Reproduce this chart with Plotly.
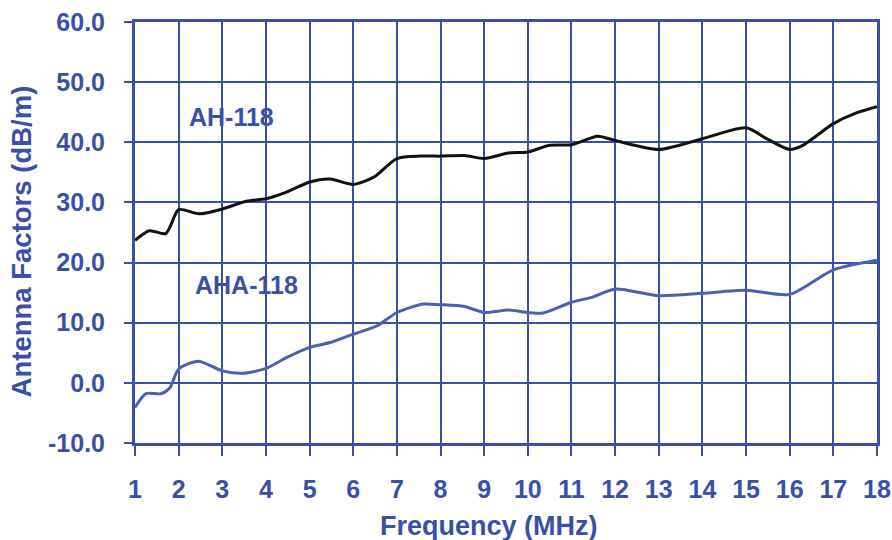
import plotly.graph_objects as go

# AH-118 antenna factors (dB/m)
ah_freq = [1.0, 1.33, 1.7, 1.8, 2.0, 2.47, 3.0, 3.55, 4.0, 4.47, 5.0, 5.47, 6.0, 6.47, 7.0,
           7.55, 8.0, 8.55, 9.0, 9.55, 10.0, 10.5, 11.0, 11.6, 12.0, 13.0, 14.0, 15.0,
           15.47, 16.0, 16.3, 17.0, 17.5, 18.0]
ah_af = [23.7, 25.3, 24.8, 25.9, 28.8, 28.1, 28.9, 30.2, 30.6, 31.7, 33.4, 33.9, 33.0, 34.2, 37.3,
         37.7, 37.7, 37.8, 37.3, 38.2, 38.4, 39.5, 39.6, 41.0, 40.3, 38.8, 40.6, 42.4,
         40.6, 38.8, 39.5, 43.1, 44.8, 45.9]

# AHA-118 antenna factors (dB/m)
aha_freq = [1.0, 1.25, 1.6, 1.8, 2.0, 2.45, 3.0, 3.47, 4.0, 4.47, 5.0, 5.47, 6.0, 6.55, 7.0,
            7.6, 8.0, 8.55, 9.0, 9.55, 10.0, 10.35, 11.0, 11.5, 12.0, 13.0, 14.0, 15.0,
            16.0, 17.0, 18.0]
aha_af = [-4.1, -1.8, -1.8, -0.8, 2.3, 3.6, 2.0, 1.6, 2.4, 4.2, 5.9, 6.7, 8.1, 9.5, 11.7,
          13.1, 13.0, 12.7, 11.7, 12.1, 11.7, 11.6, 13.4, 14.3, 15.6, 14.5, 14.9, 15.4,
          14.7, 18.8, 20.4]

x_ticks = list(range(1, 19))
y_ticks = [-10, 0, 10, 20, 30, 40, 50, 60]

BLUE = "#3a4fa8"
FONT = "Liberation Sans, Arial, sans-serif"

fig = go.Figure()
fig.add_trace(go.Scatter(x=ah_freq, y=ah_af, mode="lines", name="AH-118",
                         line=dict(color="#111111", width=3, shape="spline", smoothing=0.7)))
fig.add_trace(go.Scatter(x=aha_freq, y=aha_af, mode="lines", name="AHA-118",
                         line=dict(color="#4a60b6", width=3, shape="spline", smoothing=0.7)))

fig.add_annotation(x=3.2, y=44.2, text="<b>AH-118</b>", showarrow=False,
                   font=dict(family=FONT, size=25, color=BLUE))
fig.add_annotation(x=3.56, y=16.3, text="<b>AHA-118</b>", showarrow=False,
                   font=dict(family=FONT, size=25, color=BLUE))

fig.add_annotation(xref="paper", yref="paper", x=0.477, y=-0.197, yanchor="middle",
                   text="<b>Frequency (MHz)</b>", showarrow=False,
                   font=dict(family=FONT, size=27, color=BLUE))
fig.add_annotation(xref="paper", yref="paper", x=-0.153, y=0.48, xanchor="center",
                   yanchor="middle", textangle=-90,
                   text="<b>Antenna Factors (dB/m)</b>", showarrow=False,
                   font=dict(family=FONT, size=27.5, color=BLUE))

axis_common = dict(showgrid=True, gridcolor=BLUE, gridwidth=2, showline=True,
                   linecolor=BLUE, linewidth=3, mirror=True, ticks="outside",
                   tickcolor=BLUE, tickwidth=2, zeroline=False, automargin=False,
                   ticklabeloverflow="allow",
                   tickfont=dict(family=FONT, size=25, color=BLUE))

fig.update_xaxes(range=[1, 18], tickvals=x_ticks,
                 ticktext=[f"<b>{v}</b>" for v in x_ticks], ticklen=10,
                 ticklabelstandoff=12, **axis_common)
fig.update_yaxes(range=[-10, 60], tickvals=y_ticks,
                 ticktext=[f"<b>{v:.1f}</b>" for v in y_ticks], ticklen=8,
                 ticklabelstandoff=14, **axis_common)

fig.update_layout(width=892, height=540, showlegend=False,
                  paper_bgcolor="white", plot_bgcolor="white",
                  margin=dict(l=135, r=15, t=22, b=97))

# remove the default page margin so the 892x540 figure fills the window exactly
fig.write_html("out.html", config={"displayModeBar": False},
               post_script="document.body.style.margin='0';document.body.style.overflow='hidden';")
